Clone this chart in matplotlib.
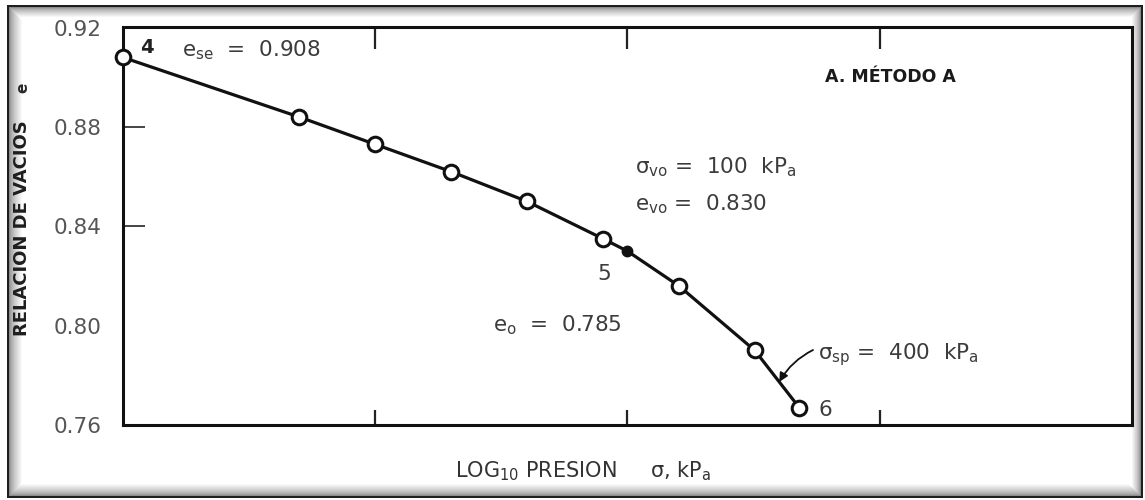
import numpy as np
import matplotlib
matplotlib.use("Agg")
import matplotlib.pyplot as plt
from matplotlib.ticker import NullLocator, NullFormatter

# Consolidation curve, method A: void ratio against log10 of pressure
presion_kpa = [1, 5, 10, 20, 40, 80, 160, 320, 480]
relacion_vacios = [0.908, 0.884, 0.873, 0.862, 0.850, 0.835, 0.816, 0.790, 0.767]

sigma_vo = 100      # kPa, in-situ vertical stress (point 5)
e_vo = 0.830
sigma_sp = 400      # kPa, preconsolidation stress
e_se = 0.908
e_0 = 0.785

y_ticks = [0.76, 0.80, 0.84, 0.88, 0.92]
y_ticklabels = ["0.76", "0.80", "0.84", "0.88", "0.92"]
x_ticks = [10, 100, 1000]

plt.rcParams["font.family"] = ["DejaVu Sans"]
plt.rcParams["mathtext.default"] = "regular"

W, H = 1145, 500
fig = plt.figure(figsize=(W / 100, H / 100), dpi=100)
fig.patch.set_facecolor("white")


def fp(x, y):
    """Pixel position (from top-left) to figure fraction."""
    return x / W, 1 - y / H


# ---- scanned-page frame with soft inner shadow ----
bg = fig.add_axes([0, 0, 1, 1], zorder=-5)
bg.set_axis_off()
yy, xx = np.mgrid[0:H, 0:W].astype(float)
L, T, R, B = 7.0, 5.0, 1142.0, 497.0
inside = (xx >= L) & (xx <= R) & (yy >= T) & (yy <= B)
dist = np.minimum.reduce([xx - L, yy - T, R - xx, B - yy])
scale = np.minimum.reduce([
    np.where(xx - L == dist, 13.0, 99), np.where(yy - T == dist, 10.0, 99),
    np.where(R - xx == dist, 9.0, 99), np.where(B - yy == dist, 12.0, 99)])
shade = np.clip((dist - 2) / scale, 0, 1)
val = np.where(inside, 0.55 + 0.45 * shade ** 0.7, 1.0)
val = np.where(inside & (dist < 2), 0.12, val)
img = np.dstack([val, val, val])
bg.imshow(img, extent=(0, W, H, 0), aspect="auto", interpolation="bilinear")
bg.set_xlim(0, W)
bg.set_ylim(H, 0)

# ---- main axes ----
x0, x1, ytop, ybot = 122.7, 1132.0, 27.5, 425.0
ax = fig.add_axes([x0 / W, 1 - ybot / H, (x1 - x0) / W, (ybot - ytop) / H])
ax.set_xscale("log")
ax.set_xlim(1, 1e4)
ax.set_ylim(0.76, 0.92)

for s in ax.spines.values():
    s.set_linewidth(2.2)
    s.set_color("#111111")

ax.set_xticks(x_ticks)
ax.xaxis.set_minor_locator(NullLocator())
ax.xaxis.set_major_formatter(NullFormatter())
ax.tick_params(axis="x", which="major", direction="in", top=True, bottom=True,
               length=11, width=1.6, color="#222222")
for t in ax.xaxis.get_major_ticks():
    t.tick2line.set_markersize(16)

ax.set_yticks(y_ticks, y_ticklabels)
ax.tick_params(axis="y", direction="in", length=16, width=1.4, color="#444444",
               pad=15, labelsize=15.5, labelcolor="#555555")
for val_, t in zip(y_ticks, ax.yaxis.get_major_ticks()):
    if val_ not in (0.84, 0.88):
        t.tick1line.set_visible(False)

# curve through all readings, including the in-situ point
p_all = np.array(presion_kpa + [sigma_vo], dtype=float)
e_all = np.array(relacion_vacios + [e_vo])
order = np.argsort(p_all)
ax.plot(p_all[order], e_all[order], color="#111111", lw=2.3, zorder=2,
        solid_capstyle="round", solid_joinstyle="round")
ax.plot(presion_kpa, relacion_vacios, "o", ms=10.5, mfc="white", mec="#111111",
        mew=2.2, zorder=3, clip_on=False)
ax.plot([sigma_vo], [e_vo], "o", ms=7.5, color="#111111", zorder=4)

# preconsolidation arrow
e_sp = np.interp(np.log10(sigma_sp), np.log10(p_all[order]), e_all[order])
ax.annotate("", xy=(sigma_sp, e_sp), xycoords="data",
            xytext=fp(813, 350), textcoords="figure fraction",
            arrowprops=dict(arrowstyle="-|>", color="#111111", lw=1.3,
                            mutation_scale=13, shrinkA=0, shrinkB=0,
                            connectionstyle="arc3,rad=0.15"))

# ---- texts ----
tc = "#3c3c3c"
fs = 15.5


def label(x, y, s, **kw):
    opts = dict(color=tc, fontsize=fs, ha="left", va="baseline")
    opts.update(kw)
    fig.text(*fp(x, y), s, **opts)


label(140, 53, "4", color="#222222", fontweight="bold", fontsize=14)
label(182, 56, r"$e_{se}$  =  " + f"{e_se:.3f}")
label(635, 173, r"$\sigma_{vo}$ =  " + f"{sigma_vo}" + r"  kP$_a$")
label(635, 210, r"$e_{vo}$ =  " + f"{e_vo:.3f}")
label(597, 280, "5")
label(493, 331, r"$e_o$  =  " + f"{e_0:.3f}")
label(818, 359, r"$\sigma_{sp}$ =  " + f"{sigma_sp}" + r"  kP$_a$")
label(818, 416, "6")
label(825, 82, "A. MÉTODO A", color="#1a1a1a", fontweight="bold",
      fontsize=12.5)

fig.text(*fp(22, 228), "RELACION DE VACIOS", rotation=90, ha="center",
         va="center", fontsize=13, fontweight="bold", color="#1e1e1e")
fig.text(*fp(23, 88), "e", rotation=90, ha="center", va="center",
         fontsize=11, fontweight="bold", color="#2a2a2a")
fig.text(*fp(455, 477), r"LOG$_{10}$ PRESION     $\sigma$, kP$_a$",
         ha="left", va="baseline", fontsize=15, color="#333333")

fig.savefig("out.png", dpi=100, facecolor="white")
